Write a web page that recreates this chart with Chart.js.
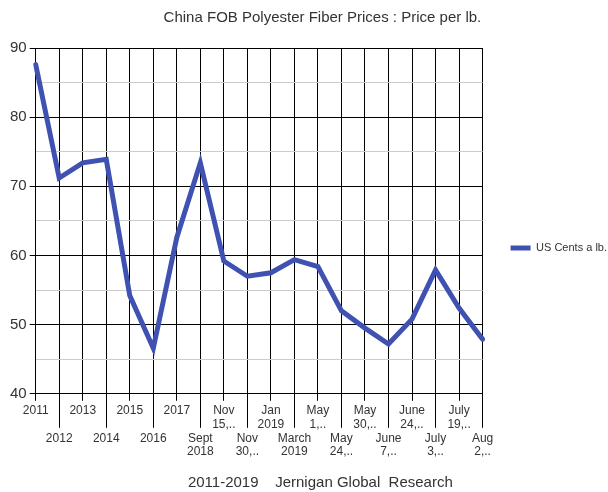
<!DOCTYPE html>
<html>
<head>
<meta charset="utf-8">
<script src="https://cdn.jsdelivr.net/npm/chart.js@4/dist/chart.umd.min.js"></script>
<style>
  body { margin: 0; background: #fff; }
  #wrap { width: 608px; height: 492px; }
</style>
</head>
<body>
<div id="wrap"><canvas id="fiberChart"></canvas></div>
<script>
// Datos del gráfico
const categorias = [
    ['2011'], ['', '', '2012'], ['2013'], ['', '', '2014'], ['2015'], ['', '', '2016'], ['2017'],
    ['', '', 'Sept', '2018'], ['Nov', '15,..'], ['', '', 'Nov', '30,..'], ['Jan', '2019'],
    ['', '', 'March', '2019'], ['May', '1,..'], ['', '', 'May', '24,..'], ['May', '30,..'],
    ['', '', 'June', '7,..'], ['June', '24,..'], ['', '', 'July', '3,..'], ['July', '19,..'],
    ['', '', 'Aug', '2,..']
];
const centavos = [87.6, 71.2, 73.4, 73.9, 54.2, 46.6, 62.6, 73.4, 59.2, 57.0,
    57.5, 59.4, 58.4, 52.0, 49.5, 47.2, 50.8, 57.9, 52.4, 47.9];
const yTicks = [40, 50, 60, 70, 80, 90];

const fuente = 'Liberation Sans, Arial, sans-serif';

// Marcas largas para la segunda fila de etiquetas
const longTicks = {
    id: 'longTicks',
    beforeDatasetsDraw(chart) {
        const x = chart.scales.x;
        const ctx = chart.ctx;
        ctx.save();
        ctx.strokeStyle = '#000';
        ctx.lineWidth = 1;
        x.ticks.forEach((t, i) => {
            if (i % 2 === 1) {
                const px = Math.round(x.getPixelForTick(i) - 0.5) + 0.5;
                ctx.beginPath();
                ctx.moveTo(px, x.top);
                ctx.lineTo(px, x.top + 34);
                ctx.stroke();
            }
        });
        ctx.restore();
    }
};

const ctx = document.getElementById('fiberChart').getContext('2d');
new Chart(ctx, {
    type: 'line',
    data: {
        labels: categorias,
        datasets: [{
            label: 'US Cents a lb.',
            data: centavos,
            borderColor: '#3f51b1',
            backgroundColor: '#3f51b1',
            borderWidth: 5,
            borderCapStyle: 'round',
            borderJoinStyle: 'miter',
            pointRadius: 0,
            tension: 0
        }]
    },
    options: {
        responsive: true,
        maintainAspectRatio: false,
        animation: false,
        layout: { padding: { left: 7, right: -9, top: 4, bottom: 0 } },
        plugins: {
            title: {
                display: true,
                text: '     China FOB Polyester Fiber Prices : Price per lb.',
                color: '#333',
                font: { size: 15, weight: 'normal', family: fuente },
                padding: { top: 5, bottom: 21 }
            },
            subtitle: {
                display: true,
                position: 'bottom',
                text: '    2011-2019    Jernigan Global  Research',
                color: '#333',
                font: { size: 15, family: fuente },
                padding: { top: 12, bottom: 0 }
            },
            legend: {
                position: 'right',
                labels: {
                    usePointStyle: true,
                    pointStyle: 'line',
                    pointStyleWidth: 20,
                    color: '#333',
                    font: { size: 11, family: fuente },
                    padding: 28
                }
            },
            tooltip: { enabled: false }
        },
        scales: {
            x: {
                offset: false,
                border: { color: '#000', width: 1 },
                grid: { color: '#000', lineWidth: 1, tickLength: 7, tickColor: '#000' },
                ticks: {
                    autoSkip: false,
                    maxRotation: 0,
                    color: '#333',
                    padding: 3,
                    font: { size: 12, family: fuente, lineHeight: 1.15 }
                }
            },
            y: {
                min: 40,
                max: 90,
                border: { color: '#000', width: 1 },
                grid: {
                    lineWidth: 1,
                    tickLength: 6,
                    color: c => (yTicks.includes(c.tick.value) ? '#000' : '#ccc'),
                    tickColor: c => (yTicks.includes(c.tick.value) ? '#000' : 'rgba(0,0,0,0)')
                },
                ticks: {
                    stepSize: 5,
                    color: '#333',
                    padding: 3,
                    font: { size: 15, family: fuente },
                    callback: v => (yTicks.includes(v) ? v : '')
                }
            }
        }
    },
    plugins: [longTicks]
});
</script>
</body>
</html>
